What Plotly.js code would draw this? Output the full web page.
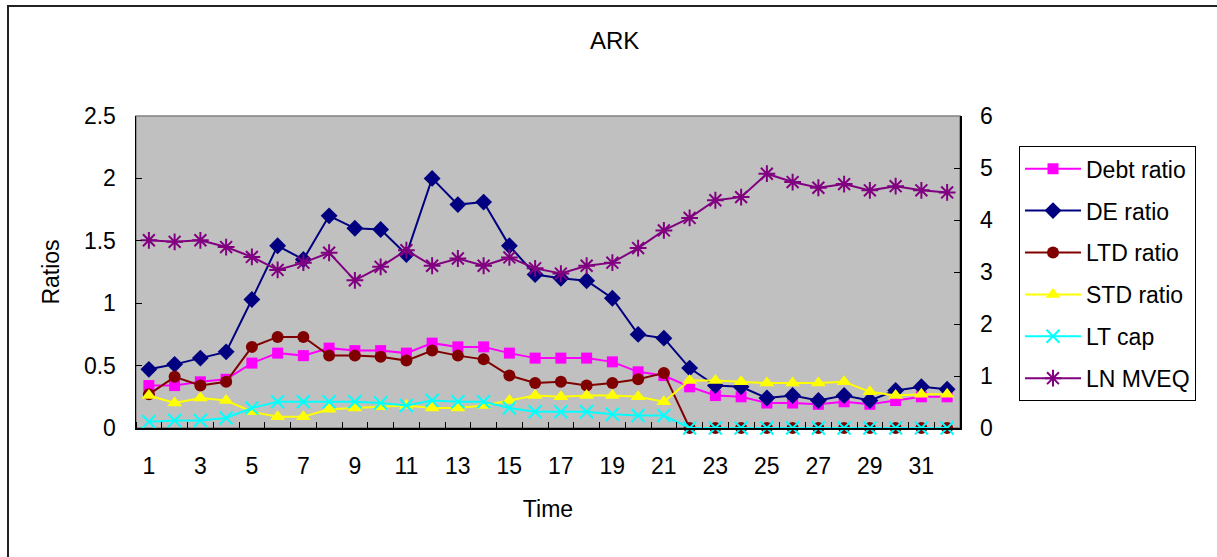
<!DOCTYPE html>
<html>
<head>
<meta charset="utf-8">
<script src="https://cdn.plot.ly/plotly-3.0.1.min.js"></script>
<style>
html,body{margin:0;padding:0;background:#fff;overflow:hidden;}
#chart{position:absolute;left:0;top:0;width:1217px;height:557px;}
#frame{position:absolute;left:7px;top:5px;width:1400px;height:800px;border-left:2px solid #222;border-top:2px solid #222;pointer-events:none;}
</style>
</head>
<body>
<div id="chart"></div>
<div id="frame"></div>
<script>
const periods = [1,2,3,4,5,6,7,8,9,10,11,12,13,14,15,16,17,18,19,20,21,22,23,24,25,26,27,28,29,30,31,32];
const tickLabels = [1,3,5,7,9,11,13,15,17,19,21,23,25,27,29,31];

const debtRatio = [0.34,0.34,0.37,0.39,0.52,0.60,0.58,0.64,0.62,0.62,0.60,0.68,0.65,0.65,0.60,0.56,0.56,0.56,0.53,0.45,0.42,0.33,0.26,0.25,0.20,0.20,0.19,0.21,0.19,0.22,0.25,0.25];
const deRatio   = [0.47,0.51,0.56,0.61,1.03,1.46,1.35,1.70,1.60,1.59,1.39,2.00,1.79,1.81,1.46,1.23,1.20,1.18,1.04,0.75,0.72,0.48,0.34,0.33,0.24,0.26,0.22,0.26,0.22,0.30,0.33,0.31];
const ltdRatio  = [0.27,0.41,0.34,0.37,0.65,0.73,0.73,0.58,0.58,0.57,0.54,0.62,0.58,0.55,0.42,0.36,0.37,0.34,0.36,0.39,0.44,0,0,0,0,0,0,0,0,0,0,0];
const stdRatio  = [0.26,0.20,0.24,0.22,0.13,0.09,0.09,0.15,0.16,0.17,0.18,0.16,0.16,0.18,0.22,0.26,0.25,0.26,0.26,0.25,0.21,0.38,0.38,0.37,0.36,0.36,0.36,0.37,0.29,0.26,0.27,0.27];
const ltCap     = [0.05,0.06,0.06,0.08,0.16,0.21,0.21,0.21,0.21,0.20,0.18,0.22,0.21,0.21,0.16,0.13,0.13,0.13,0.11,0.10,0.10,0,0,0,0,0,0,0,0,0,0,0];
const lnMveq    = [3.61,3.58,3.61,3.48,3.29,3.04,3.18,3.37,2.84,3.10,3.42,3.12,3.26,3.12,3.28,3.07,2.97,3.12,3.18,3.46,3.80,4.04,4.38,4.44,4.89,4.73,4.62,4.69,4.57,4.65,4.57,4.53];

const FONT = 'Liberation Sans, Arial, sans-serif';

function tr(name, y, color, symbol, size, open, yaxis, grp) {
  const marker = {symbol: symbol, size: size, color: color};
  if (open) marker.line = {color: color, width: 2};
  return {
    type: 'scatter', mode: 'lines+markers', name: name,
    x: periods, y: y, yaxis: yaxis || 'y',
    line: {color: color, width: 2},
    marker: marker, cliponaxis: false, legendgroup: grp
  };
}

const data = [
  tr('Debt ratio', debtRatio, '#FF00FF', 'square', 11, false, 'y', 'g1'),
  tr('DE ratio', deRatio, '#000080', 'diamond', 13, false, 'y', 'g2'),
  tr('LTD ratio', ltdRatio, '#800000', 'circle', 12, false, 'y', 'g3'),
  tr('STD ratio', stdRatio, '#FFFF00', 'triangle-up', 13, false, 'y', 'g4'),
  tr('LT cap', ltCap, '#00FFFF', 'x-thin-open', 13, true, 'y', 'g5'),
  tr('LN MVEQ', lnMveq, '#800080', 'asterisk-open', 14, true, 'y2', 'g6')
];

const layout = {
  width: 1217, height: 557,
  margin: {l: 136, r: 257, t: 116, b: 129, pad: 0},
  paper_bgcolor: '#FFFFFF',
  plot_bgcolor: '#C0C0C0',
  font: {family: FONT, size: 23, color: '#000'},
  showlegend: true,
  title: {text: 'ARK', x: 0.505, xref: 'container', xanchor: 'center', y: 0.928, yref: 'container', yanchor: 'middle', font: {family: FONT, size: 24, color: '#000'}},
  xaxis: {
    range: [0.5, 32.5], tickmode: 'array', tickvals: tickLabels, ticktext: tickLabels.map(String),
    ticks: '', showgrid: false, zeroline: false,
    showline: true, linecolor: '#000', linewidth: 1.5,
    ticklabelstandoff: 17,
    minor: {tick0: 0.5, dtick: 1, ticks: 'inside', ticklen: 6, tickcolor: '#000', tickwidth: 1, showgrid: false},
    title: {text: 'Time', standoff: 23, font: {family: FONT, size: 23}},
    tickfont: {family: FONT, size: 23}, fixedrange: true
  },
  yaxis: {
    range: [0, 2.5], dtick: 0.5, tick0: 0, ticks: 'inside', ticklen: 6, tickcolor: '#000',
    showgrid: false, zeroline: false, showline: true, linecolor: '#000', linewidth: 1.5,
    ticklabelstandoff: 14,
    title: {text: 'Ratios', standoff: 18, font: {family: FONT, size: 23}},
    tickfont: {family: FONT, size: 23}, fixedrange: true
  },
  yaxis2: {
    overlaying: 'y', side: 'right', range: [0, 6], dtick: 1, tick0: 0,
    ticks: 'inside', ticklen: 6, tickcolor: '#000',
    showgrid: false, zeroline: false, showline: true, linecolor: '#000', linewidth: 1.5,
    ticklabelstandoff: 14,
    tickfont: {family: FONT, size: 23}, fixedrange: true
  },
  legend: {
    x: 1.0716, xref: 'paper', xanchor: 'left', y: 0.903, yanchor: 'top',
    bgcolor: '#FFFFFF', bordercolor: '#000', borderwidth: 1,
    font: {family: FONT, size: 23, color: '#000'},
    tracegroupgap: 9, itemwidth: 56, traceorder: 'grouped'
  },
  shapes: [{type: 'rect', xref: 'paper', yref: 'paper', x0: 0, x1: 1, y0: 0, y1: 1, line: {color: '#808080', width: 1.5}, layer: 'below'}]
};

Plotly.newPlot('chart', data, layout, {displayModeBar: false, staticPlot: true});
</script>
</body>
</html>
